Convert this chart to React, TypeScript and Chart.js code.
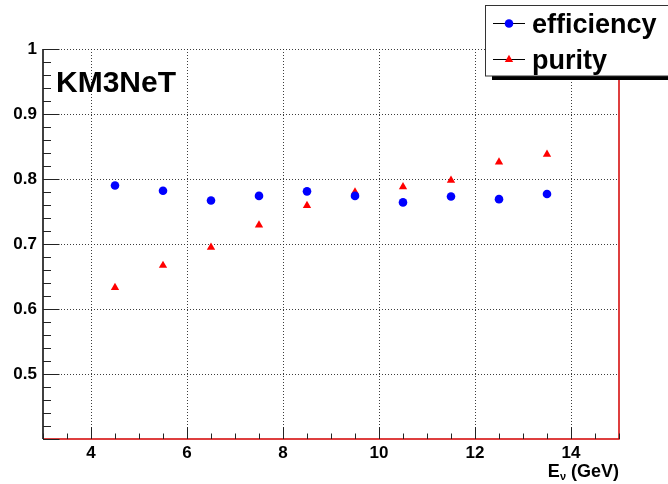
import React, { useEffect, useRef } from 'react';
import { Chart, registerables } from 'chart.js';

Chart.register(...registerables);

// ---- data ----
const energies = [4.5, 5.5, 6.5, 7.5, 8.5, 9.5, 10.5, 11.5, 12.5, 13.5];
const efficiency = [0.790, 0.782, 0.767, 0.774, 0.781, 0.774, 0.764, 0.773, 0.769, 0.777];
const purity = [0.633, 0.667, 0.695, 0.729, 0.759, 0.780, 0.788, 0.798, 0.826, 0.838];
const xTickValues = [4, 6, 8, 10, 12, 14];
const yTickValues = [0.5, 0.6, 0.7, 0.8, 0.9, 1.0];
const seriesLabels = ['efficiency', 'purity'];
const chartLabel = 'KM3NeT';
const xTitleMain = 'E';
const xTitleSub = 'ν';
const xTitleUnit = ' (GeV)';

const FONT = '"Liberation Sans", Arial, Helvetica, sans-serif';

function drawMarker(ctx: CanvasRenderingContext2D, style: string, x: number, y: number, r: number, color: string) {
  ctx.save();
  ctx.fillStyle = color;
  ctx.beginPath();
  if (style === 'triangle') {
    for (let k = 0; k < 3; k++) {
      const ang = (k * 2 * Math.PI) / 3;
      const px = x + Math.sin(ang) * r;
      const py = y - Math.cos(ang) * r;
      if (k === 0) ctx.moveTo(px, py);
      else ctx.lineTo(px, py);
    }
    ctx.closePath();
  } else {
    ctx.arc(x, y, r, 0, Math.PI * 2);
  }
  ctx.fill();
  ctx.restore();
}

export default function App() {
  const ref = useRef<HTMLCanvasElement>(null);

  useEffect(() => {
    document.body.style.margin = '0';
    const canvas = ref.current;
    if (!canvas) return;

    const gridPlugin = {
      id: 'rootGrid',
      beforeDatasetsDraw(chart: any) {
        const { ctx, chartArea: a, scales } = chart;
        ctx.save();
        ctx.strokeStyle = 'rgba(40,40,40,0.9)';
        ctx.lineWidth = 1;
        ctx.setLineDash([1, 2]);
        for (const v of xTickValues) {
          const x = Math.round(scales.x.getPixelForValue(v)) + 0.5;
          ctx.beginPath();
          ctx.moveTo(x, a.top);
          ctx.lineTo(x, a.bottom);
          ctx.stroke();
        }
        for (const v of yTickValues) {
          const y = Math.round(scales.y.getPixelForValue(v)) + 0.5;
          ctx.beginPath();
          ctx.moveTo(a.left, y);
          ctx.lineTo(a.right, y);
          ctx.stroke();
        }
        ctx.restore();
      },
    };

    const decorPlugin = {
      id: 'rootDecor',
      afterDraw(chart: any) {
        const { ctx, chartArea: a, scales } = chart;
        const xs = scales.x;
        const ys = scales.y;
        ctx.save();
        // frame
        ctx.lineWidth = 1.5;
        ctx.strokeStyle = '#d40000';
        ctx.beginPath();
        ctx.moveTo(a.left, a.bottom);
        ctx.lineTo(a.right, a.bottom);
        ctx.lineTo(a.right, a.top);
        ctx.stroke();
        ctx.strokeStyle = '#000';
        ctx.beginPath();
        ctx.moveTo(a.left, a.top);
        ctx.lineTo(a.left, a.bottom);
        ctx.stroke();

        // tick marks (inward)
        ctx.lineWidth = 1;
        ctx.strokeStyle = '#222';
        for (let i = 0; i <= 30; i++) {
          const v = 0.4 + i * 0.02;
          const y = Math.round(ys.getPixelForValue(v)) + 0.5;
          const len = i % 5 === 0 ? 16.5 : 8;
          ctx.beginPath();
          ctx.moveTo(a.left, y);
          ctx.lineTo(a.left + len, y);
          ctx.stroke();
        }
        for (let i = 0; i <= 24; i++) {
          const v = 3 + i * 0.5;
          const x = Math.round(xs.getPixelForValue(v)) + 0.5;
          const len = xTickValues.includes(v) ? 12 : 5.5;
          ctx.beginPath();
          ctx.moveTo(x, a.bottom);
          ctx.lineTo(x, a.bottom - len);
          ctx.stroke();
        }

        // KM3NeT label
        ctx.fillStyle = '#000';
        ctx.font = `bold 30px ${FONT}`;
        ctx.textAlign = 'left';
        ctx.textBaseline = 'alphabetic';
        ctx.fillText(chartLabel, 56, 92);

        // x axis title, right aligned to the frame
        ctx.font = `bold 18px ${FONT}`;
        const w0 = ctx.measureText(xTitleMain).width;
        const w2 = ctx.measureText(xTitleUnit).width;
        ctx.font = `bold 11px ${FONT}`;
        const w1 = ctx.measureText(xTitleSub).width;
        let tx = a.right - (w0 + w1 + w2);
        const ty = 476.5;
        ctx.font = `bold 18px ${FONT}`;
        ctx.fillText(xTitleMain, tx, ty);
        tx += w0;
        ctx.font = `bold 11px ${FONT}`;
        ctx.fillText(xTitleSub, tx, ty + 3);
        tx += w1;
        ctx.font = `bold 18px ${FONT}`;
        ctx.fillText(xTitleUnit, tx, ty);

        // legend
        const lx = 485.5;
        const ly = 5.5;
        ctx.fillStyle = '#000';
        ctx.fillRect(492, 76, 200, 4);
        ctx.fillStyle = '#fff';
        ctx.fillRect(lx, ly, 200, 70.5);
        ctx.strokeStyle = '#333';
        ctx.lineWidth = 1;
        ctx.strokeRect(lx, ly, 200, 70.5);
        const rows = [23.5, 59.5];
        chart.data.datasets.forEach((ds: any, i: number) => {
          const ry = rows[i];
          ctx.strokeStyle = '#000';
          ctx.lineWidth = 1;
          ctx.beginPath();
          ctx.moveTo(493, ry);
          ctx.lineTo(525, ry);
          ctx.stroke();
          drawMarker(ctx, ds.pointStyle, 509, ry, ds.pointRadius, ds.backgroundColor);
          ctx.fillStyle = '#000';
          ctx.font = `bold 27px ${FONT}`;
          ctx.textAlign = 'left';
          ctx.textBaseline = 'alphabetic';
          ctx.fillText(ds.label, 532, ry + 9);
        });
        ctx.restore();
      },
    };

    const chart = new Chart(canvas, {
      type: 'scatter',
      data: {
        datasets: [
          {
            label: seriesLabels[0],
            data: energies.map((x, i) => ({ x, y: efficiency[i] })),
            pointStyle: 'circle',
            pointRadius: 4.3,
            backgroundColor: '#0000ff',
            borderWidth: 0,
            showLine: false,
          },
          {
            label: seriesLabels[1],
            data: energies.map((x, i) => ({ x, y: purity[i] })),
            pointStyle: 'triangle',
            pointRadius: 4.8,
            backgroundColor: '#ff0000',
            borderWidth: 0,
            showLine: false,
          },
        ],
      },
      options: {
        responsive: false,
        animation: false,
        devicePixelRatio: 1,
        layout: { padding: { top: 49, right: 49, left: 0, bottom: 0 } },
        plugins: { legend: { display: false }, tooltip: { enabled: false } },
        scales: {
          x: {
            type: 'linear',
            min: 3,
            max: 15,
            grid: { display: false, drawTicks: false },
            border: { display: false },
            afterBuildTicks: (s: any) => {
              s.ticks = xTickValues.map((v) => ({ value: v }));
            },
            afterFit: (s: any) => {
              s.height = 45;
            },
            ticks: {
              color: '#000',
              padding: 4,
              maxRotation: 0,
              font: { family: FONT, size: 17, weight: 'bold' },
              callback: (v: any) => String(v),
            },
          },
          y: {
            type: 'linear',
            min: 0.4,
            max: 1.0,
            grid: { display: false, drawTicks: false },
            border: { display: false },
            afterBuildTicks: (s: any) => {
              s.ticks = yTickValues.map((v) => ({ value: v }));
            },
            afterFit: (s: any) => {
              s.width = 43;
            },
            ticks: {
              color: '#000',
              padding: 6,
              font: { family: FONT, size: 17, weight: 'bold' },
              callback: (v: any) => (Math.abs(v - 1) < 1e-9 ? '1' : Number(v).toFixed(1)),
            },
          },
        },
      },
      plugins: [gridPlugin, decorPlugin],
    } as any);

    return () => chart.destroy();
  }, []);

  return (
    <div style={{ width: 668, height: 484 }}>
      <canvas ref={ref} width={668} height={484} style={{ display: 'block' }} />
    </div>
  );
}
